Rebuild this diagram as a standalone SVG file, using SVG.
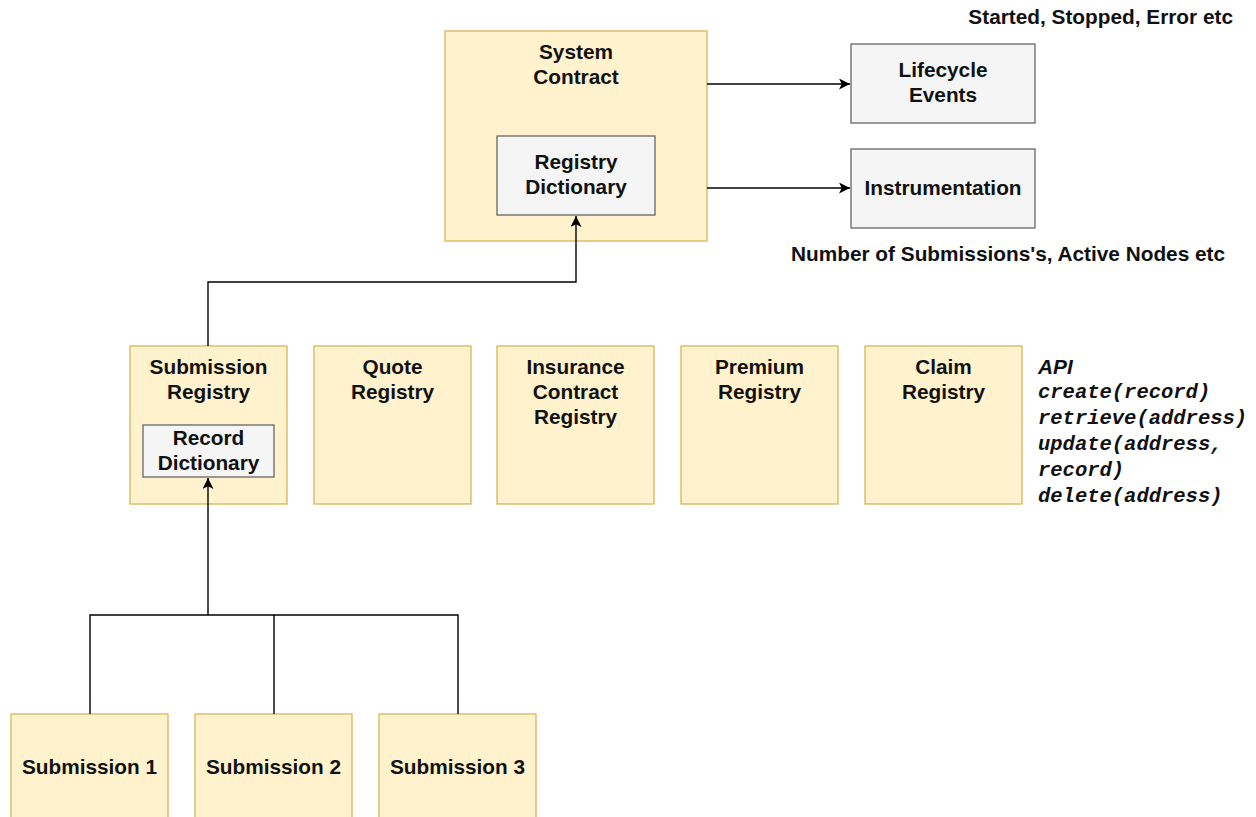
<svg xmlns="http://www.w3.org/2000/svg" width="1256" height="817" viewBox="0 0 1256 817">
<defs>
<style>
.y{fill:#fff2cc;stroke:#d6b656;stroke-width:1.3}
.g{fill:#f5f5f5;stroke:#666666;stroke-width:1.3}
.t{font-family:"Liberation Sans",Arial,sans-serif;font-weight:bold;font-size:20.8px;fill:#111;text-anchor:middle}
.l{font-family:"Liberation Sans",Arial,sans-serif;font-weight:bold;font-size:20.8px;fill:#111}
.m{font-family:"Liberation Mono","Courier New",monospace;font-weight:bold;font-style:italic;font-size:20.5px;fill:#111}
.c{fill:none;stroke:#000;stroke-width:1.4}
</style>
<marker id="arr" viewBox="0 0 10 10" refX="10" refY="5" markerWidth="11" markerHeight="11" markerUnits="userSpaceOnUse" orient="auto">
<path d="M0,0 L10,5 L0,10 L2.5,5 Z" fill="#000"/>
</marker>
</defs>
<rect width="1256" height="817" fill="#fff"/>

<g id="system-contract">
<rect class="y" x="445" y="31" width="262" height="210"/>
<text class="t" x="576" y="59">System</text>
<text class="t" x="576" y="84">Contract</text>
</g>
<g id="registry-dictionary">
<rect class="g" x="497" y="136" width="158" height="79"/>
<text class="t" x="576" y="169">Registry</text>
<text class="t" x="576" y="194">Dictionary</text>
</g>
<g id="lifecycle-events">
<rect class="g" x="851" y="44" width="184" height="79"/>
<text class="t" x="943" y="77">Lifecycle</text>
<text class="t" x="943" y="102">Events</text>
</g>
<g id="instrumentation">
<rect class="g" x="851" y="149" width="184" height="79"/>
<text class="t" x="943" y="195">Instrumentation</text>
</g>
<g id="label-lifecycle">
<text class="l" x="1233" y="24" text-anchor="end">Started, Stopped, Error etc</text>
</g>
<g id="label-instrumentation">
<text class="l" x="791" y="261">Number of Submissions's, Active Nodes etc</text>
</g>

<g id="submission-registry">
<rect class="y" x="130" y="346" width="157" height="158"/>
<text class="t" x="208.5" y="374">Submission</text>
<text class="t" x="208.5" y="399">Registry</text>
</g>
<g id="record-dictionary">
<rect class="g" x="143" y="425" width="131" height="52"/>
<text class="t" x="208.5" y="445">Record</text>
<text class="t" x="208.5" y="470">Dictionary</text>
</g>
<g id="quote-registry">
<rect class="y" x="314" y="346" width="157" height="158"/>
<text class="t" x="392.5" y="374">Quote</text>
<text class="t" x="392.5" y="399">Registry</text>
</g>
<g id="insurance-contract-registry">
<rect class="y" x="497" y="346" width="157" height="158"/>
<text class="t" x="575.5" y="374">Insurance</text>
<text class="t" x="575.5" y="399">Contract</text>
<text class="t" x="575.5" y="424">Registry</text>
</g>
<g id="premium-registry">
<rect class="y" x="681" y="346" width="157" height="158"/>
<text class="t" x="759.5" y="374">Premium</text>
<text class="t" x="759.5" y="399">Registry</text>
</g>
<g id="claim-registry">
<rect class="y" x="865" y="346" width="157" height="158"/>
<text class="t" x="943.5" y="374">Claim</text>
<text class="t" x="943.5" y="399">Registry</text>
</g>
<g id="api-label">
<text class="l" x="1038" y="374" font-style="italic">API</text>
<text class="m" x="1038" y="398">create(record)</text>
<text class="m" x="1038" y="424">retrieve(address)</text>
<text class="m" x="1038" y="450">update(address,</text>
<text class="m" x="1038" y="476">record)</text>
<text class="m" x="1038" y="502">delete(address)</text>
</g>

<g id="submission-1">
<rect class="y" x="11" y="714" width="157" height="158"/>
<text class="t" x="89.5" y="774">Submission 1</text>
</g>
<g id="submission-2">
<rect class="y" x="195" y="714" width="157" height="158"/>
<text class="t" x="273.5" y="774">Submission 2</text>
</g>
<g id="submission-3">
<rect class="y" x="379" y="714" width="157" height="158"/>
<text class="t" x="457.5" y="774">Submission 3</text>
</g>

<g id="connectors">
<path class="c" d="M707,84 H850" marker-end="url(#arr)"/>
<path class="c" d="M707,188 H850" marker-end="url(#arr)"/>
<path class="c" d="M208,346 V282 H576 V216" marker-end="url(#arr)"/>
<path class="c" d="M90,714 V615 H458 V714"/>
<path class="c" d="M274,714 V615"/>
<path class="c" d="M208,615 V478" marker-end="url(#arr)"/>
</g>
</svg>
